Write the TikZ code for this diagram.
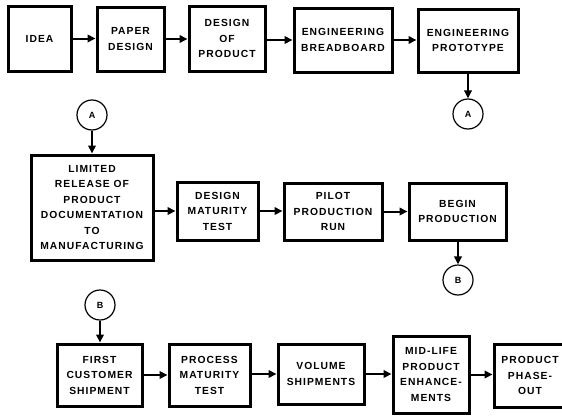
\documentclass[tikz,border=0pt]{standalone}
\usepackage{fontspec}
\newfontfamily\lblfont[LetterSpace=10]{Liberation Sans}
\usetikzlibrary{arrows.meta}
\tikzset{
  box/.style={draw, line width=3pt, align=center, inner sep=0pt,
    font=\lblfont\bfseries\fontsize{10.3}{15.5}\selectfont},
  conn/.style={circle, draw, line width=1.2pt, minimum size=30pt, inner sep=0pt,
    font=\lblfont\bfseries\fontsize{9}{10}\selectfont},
  arr/.style={line width=2pt, -{Triangle[length=8pt,width=7.5pt]}}
}
\begin{document}
\begin{tikzpicture}[x=1pt,y=-1pt]
\useasboundingbox (0,0) rectangle (562,415);
% Row 1
\node[box, minimum width=63pt, minimum height=65pt] (idea) at (39.5,38.5) {IDEA};
\node[box, minimum width=67pt, minimum height=64pt] (paper) at (130.5,39) {PAPER\\DESIGN};
\node[box, minimum width=76pt, minimum height=65pt] (dop) at (227,38.5) {DESIGN\\OF\\PRODUCT};
\node[box, minimum width=98pt, minimum height=64pt] (bread) at (343,40) {ENGINEERING\\BREADBOARD};
\node[box, minimum width=100pt, minimum height=63pt] (proto) at (468,40.5) {ENGINEERING\\PROTOTYPE};
\node[conn] (ar) at (468,114) {A};
\node[conn] (al) at (92,115) {A};
% Row 2
\node[box, minimum width=122pt, minimum height=105pt] (lim) at (92,207.5) {LIMITED\\RELEASE OF\\PRODUCT\\DOCUMENTATION\\TO\\MANUFACTURING};
\node[box, minimum width=81pt, minimum height=58pt] (dmt) at (217.5,211) {DESIGN\\MATURITY\\TEST};
\node[box, minimum width=98pt, minimum height=57pt] (pilot) at (333,211.5) {PILOT\\PRODUCTION\\RUN};
\node[box, minimum width=97pt, minimum height=57pt] (begin) at (457.5,211.5) {BEGIN\\PRODUCTION};
\node[conn] (br) at (458,280) {B};
\node[conn] (bl) at (100,305) {B};
% Row 3
\node[box, minimum width=85pt, minimum height=62pt] (first) at (99.5,375) {FIRST\\CUSTOMER\\SHIPMENT};
\node[box, minimum width=81pt, minimum height=62pt] (pmt) at (209.5,375) {PROCESS\\MATURITY\\TEST};
\node[box, minimum width=86pt, minimum height=60pt] (vol) at (321,374) {VOLUME\\SHIPMENTS};
\node[box, minimum width=76pt, minimum height=77pt] (mid) at (431,374.5) {MID-LIFE\\PRODUCT\\ENHANCE-\\MENTS};
\node[box, minimum width=72pt, minimum height=63pt] (phase) at (530,375.5) {PRODUCT\\PHASE-\\OUT};
% Connectors
\draw[arr] (idea.east) -- (idea.east -| paper.west);
\draw[arr] (paper.east) -- (paper.east -| dop.west);
\draw[arr] (dop.east |- bread) -- (bread.west);
\draw[arr] (bread.east) -- (bread.east -| proto.west);
\draw[arr] (proto.south) -- (ar.north);
\draw[arr] (al.south) -- (al.south |- lim.north);
\draw[arr] (lim.east |- dmt) -- (dmt.west);
\draw[arr] (dmt.east) -- (dmt.east -| pilot.west);
\draw[arr] (pilot.east) -- (pilot.east -| begin.west);
\draw[arr] (begin.south -| br) -- (br.north);
\draw[arr] (bl.south) -- (bl.south |- first.north);
\draw[arr] (first.east) -- (first.east -| pmt.west);
\draw[arr] (pmt.east |- vol) -- (vol.west);
\draw[arr] (vol.east) -- (vol.east -| mid.west);
\draw[arr] (mid.east) -- (mid.east -| phase.west);
\end{tikzpicture}
\end{document}
